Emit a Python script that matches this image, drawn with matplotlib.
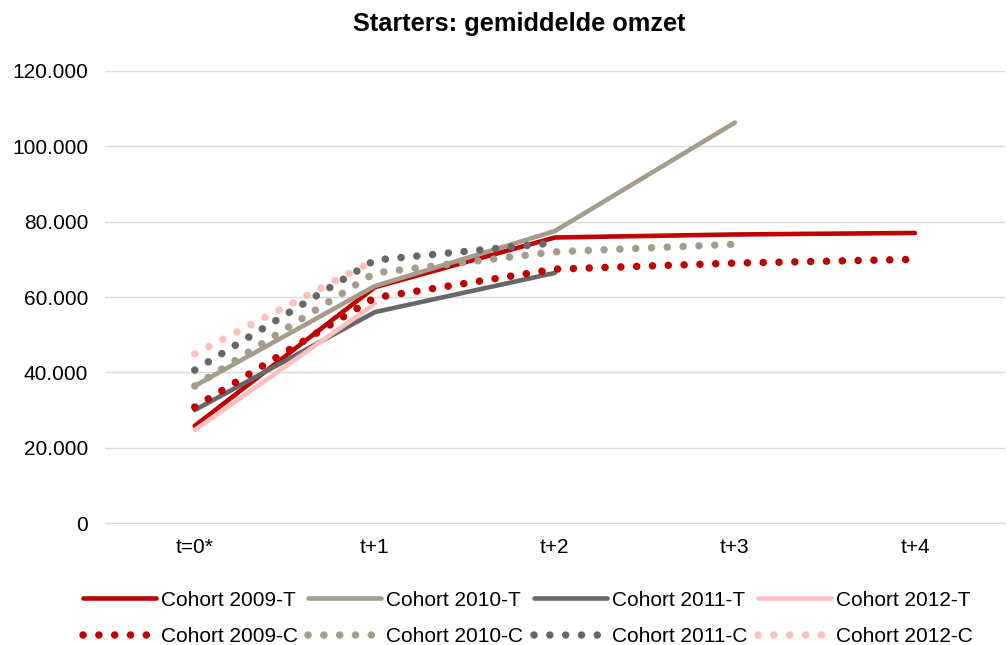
import numpy as np
import matplotlib.pyplot as plt
from matplotlib.ticker import FuncFormatter

plt.rcParams['font.family'] = ['Liberation Sans', 'DejaVu Sans']

periods = ['t=0*', 't+1', 't+2', 't+3', 't+4']

# gemiddelde omzet per cohort (T = behandelgroep, C = controlegroep)
cohort_2009_t = [25800, 62600, 75800, 76600, 77000]
cohort_2010_t = [36400, 62900, 77500, 106300]
cohort_2011_t = [30000, 56000, 66400]
cohort_2012_t = [24700, 58200]
cohort_2009_c = [30800, 59800, 67400, 69000, 70000]
cohort_2010_c = [36400, 66400, 72000, 74000]
cohort_2011_c = [40600, 69800, 74400]
cohort_2012_c = [44900, 69800]

series = [
    ('Cohort 2009-T', cohort_2009_t, '#C00000', '-'),
    ('Cohort 2010-T', cohort_2010_t, '#A59D8C', '-'),
    ('Cohort 2011-T', cohort_2011_t, '#676767', '-'),
    ('Cohort 2012-T', cohort_2012_t, '#FFBFBF', '-'),
    ('Cohort 2009-C', cohort_2009_c, '#C00000', ':'),
    ('Cohort 2010-C', cohort_2010_c, '#A59D8C', ':'),
    ('Cohort 2011-C', cohort_2011_c, '#676767', ':'),
    ('Cohort 2012-C', cohort_2012_c, '#FFBFBF', ':'),
]

fig = plt.figure(figsize=(10.07, 6.45), dpi=100)
ax = fig.add_axes([0.104, 0.189, 0.894, 0.701])

handles = []
for label, vals, color, style in series:
    x = np.arange(len(vals))
    if style == '-':
        h, = ax.plot(x, vals, color=color, lw=3.3, solid_capstyle='round',
                     solid_joinstyle='round', label=label)
    else:
        h, = ax.plot(x, vals, color=color, lw=5.4, linestyle=(0, (0.01, 2.1)),
                     dash_capstyle='round', label=label)
    handles.append(h)

ax.set_xlim(-0.5, 4.5)
ax.set_ylim(0, 120000)
ax.set_yticks(np.arange(0, 120001, 20000))
ax.yaxis.set_major_formatter(FuncFormatter(lambda v, p: f'{int(v):,}'.replace(',', '.')))
ax.set_xticks(range(len(periods)))
ax.set_xticklabels(periods)
ax.tick_params(axis='both', length=0, labelsize=15, colors='#000000')
ax.tick_params(axis='x', pad=11)
ax.tick_params(axis='y', pad=12)
ax.grid(axis='y', color='#D9D9D9', lw=1)
ax.set_axisbelow(True)
for side in ['left', 'right', 'top']:
    ax.spines[side].set_visible(False)
ax.spines['bottom'].set_color('#D9D9D9')

fig.suptitle('Starters: gemiddelde omzet', fontsize=18.3, fontweight='bold',
             x=0.516, y=0.982)

# legend fills column-wise, so interleave T and C rows
order = [0, 4, 1, 5, 2, 6, 3, 7]
fig.legend([handles[i] for i in order], [series[i][0] for i in order],
           loc='center', bbox_to_anchor=(0.524, 0.041), ncol=4, frameon=False,
           fontsize=15, handlelength=3.5, handletextpad=0.25, columnspacing=0.5,
           labelspacing=0.85)

fig.savefig('out.png', dpi=100)
